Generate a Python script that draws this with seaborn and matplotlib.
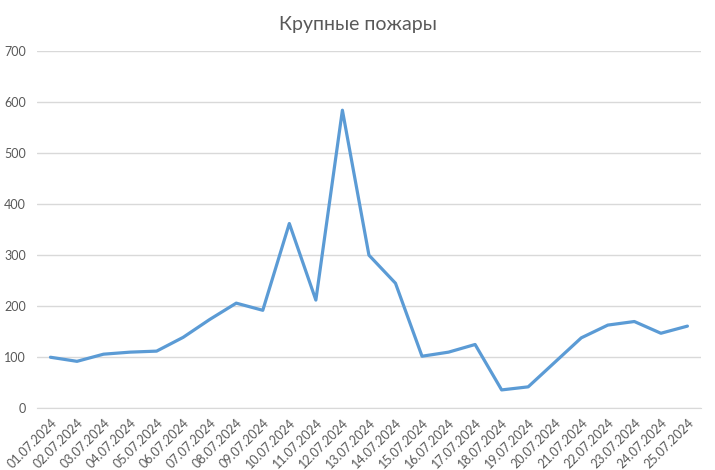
import pandas as pd
import seaborn as sns
import matplotlib.pyplot as plt
from matplotlib.ticker import FixedLocator, MultipleLocator

dates = ['01.07.2024', '02.07.2024', '03.07.2024', '04.07.2024', '05.07.2024',
         '06.07.2024', '07.07.2024', '08.07.2024', '09.07.2024', '10.07.2024',
         '11.07.2024', '12.07.2024', '13.07.2024', '14.07.2024', '15.07.2024',
         '16.07.2024', '17.07.2024', '18.07.2024', '19.07.2024', '20.07.2024',
         '21.07.2024', '22.07.2024', '23.07.2024', '24.07.2024', '25.07.2024']
fires = [100, 92, 106, 110, 112, 139, 174, 206, 192, 362, 212, 584, 300,
         245, 102, 110, 125, 36, 42, 90, 138, 163, 170, 147, 161]
title = 'Крупные пожары'

sns.set_style('white')
plt.rcParams['font.family'] = ['Lato', 'DejaVu Sans']

df = pd.DataFrame({'pos': range(len(dates)), 'value': fires})

fig = plt.figure(figsize=(7.15, 4.7), dpi=100)
ax = fig.add_axes([0.052, 0.1313, 0.928, 0.7602])

sns.lineplot(data=df, x='pos', y='value', color='#5B9BD5', linewidth=2.3, ax=ax)

ax.set_xlim(-0.5, len(dates) - 0.5)
ax.set_ylim(0, 700)
ax.yaxis.set_major_locator(MultipleLocator(100))
ax.grid(axis='y', color='#D9D9D9', linewidth=1)
ax.set_axisbelow(True)

ax.set_xticks(range(len(dates)))
ax.set_xticklabels(dates, rotation=45, ha='right', rotation_mode='anchor')
ax.xaxis.set_minor_locator(FixedLocator([i - 0.5 for i in range(len(dates) + 1)]))
ax.tick_params(axis='x', which='major', length=0, pad=6, labelsize=9, colors='#595959')
ax.tick_params(axis='x', which='minor', length=4, color='#D9D9D9', width=1)
ax.tick_params(axis='y', length=0, labelsize=9, colors='#595959', pad=8)

for s in ['top', 'right', 'left']:
    ax.spines[s].set_visible(False)
ax.spines['bottom'].set_color('#D9D9D9')

ax.set_xlabel('')
ax.set_ylabel('')
fig.text(0.5, 0.947, title, ha='center', va='center', fontsize=14, color='#595959')

fig.savefig('out.png', dpi=100)
